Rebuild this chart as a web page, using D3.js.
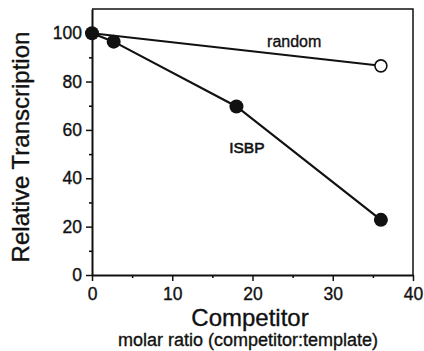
<!DOCTYPE html>
<html>
<head>
<meta charset="utf-8">
<script src="https://cdn.jsdelivr.net/npm/d3@7"></script>
<style>
  body { margin: 0; background: #fff; }
  svg text { font-family: "Liberation Sans", Arial, Helvetica, sans-serif; fill: #111; stroke: #111; stroke-width: 0.35px; }
</style>
</head>
<body>
<div class="canvas"></div>
<script>
// data
const isbpX = [0, 2.7, 18, 36];
const isbpY = [100, 96.5, 69.7, 22.8];
const randomX = [0, 36];
const randomY = [100, 86.5];
const xTicks = [0, 10, 20, 30, 40];
const xMinor = [5, 15, 25, 35];
const yTicks = [0, 20, 40, 60, 80, 100];
const yMinor = [10, 30, 50, 70, 90];

const W = 424, H = 351;
const margin = { top: 9, right: 11, bottom: 76, left: 92 };
const graphWidth = W - margin.left - margin.right;
const graphHeight = H - margin.top - margin.bottom;

const svg = d3.select('.canvas')
  .append('svg')
  .attr('width', W)
  .attr('height', H);

const graph = svg.append('g')
  .attr('transform', `translate(${margin.left}, ${margin.top})`);

const x = d3.scaleLinear().domain([0, 40]).range([0, graphWidth]);
const y = d3.scaleLinear().domain([0, 110]).range([graphHeight, 0]);

// frame (top and right)
graph.append('path')
  .attr('d', `M0,0 H${graphWidth} V${graphHeight}`)
  .attr('fill', 'none')
  .attr('stroke', '#111')
  .attr('stroke-width', 1.5);

// minor ticks
graph.append('g')
  .attr('transform', `translate(0, ${graphHeight})`)
  .call(d3.axisBottom(x).tickValues(xMinor).tickSize(3).tickFormat(''))
  .call(g => g.select('.domain').remove())
  .selectAll('line').attr('stroke-width', 1.5);

graph.append('g')
  .call(d3.axisLeft(y).tickValues(yMinor).tickSize(3).tickFormat(''))
  .call(g => g.select('.domain').remove())
  .selectAll('line').attr('stroke-width', 1.5);

// major axes
const xAxisGroup = graph.append('g')
  .attr('transform', `translate(0, ${graphHeight})`)
  .call(d3.axisBottom(x).tickValues(xTicks).tickSize(6).tickSizeOuter(0).tickPadding(7));

const yAxisGroup = graph.append('g')
  .call(d3.axisLeft(y).tickValues(yTicks).tickSize(6).tickSizeOuter(0).tickPadding(4));

[xAxisGroup, yAxisGroup].forEach(g => {
  g.select('.domain').attr('stroke', '#111').attr('stroke-width', 2);
  g.selectAll('.tick line').attr('stroke', '#111').attr('stroke-width', 1.5);
  g.selectAll('.tick text')
    .style('font-size', '17.5px')
    .style('font-family', '"Liberation Sans", Arial, sans-serif')
    .attr('fill', '#111');
});

// lines
const line = d3.line()
  .x(d => x(d[0]))
  .y(d => y(d[1]));

const randomData = randomX.map((v, i) => [v, randomY[i]]);
const isbpData = isbpX.map((v, i) => [v, isbpY[i]]);

graph.append('path')
  .datum(randomData)
  .attr('fill', 'none')
  .attr('stroke', '#111')
  .attr('stroke-width', 2)
  .attr('d', line);

graph.append('path')
  .datum(isbpData)
  .attr('fill', 'none')
  .attr('stroke', '#111')
  .attr('stroke-width', 2.2)
  .attr('d', line);

// markers
graph.selectAll('circle.open')
  .data(randomData.slice(1))
  .enter().append('circle')
  .attr('class', 'open')
  .attr('cx', d => x(d[0]))
  .attr('cy', d => y(d[1]))
  .attr('r', 6)
  .attr('fill', '#fff')
  .attr('stroke', '#111')
  .attr('stroke-width', 1.6);

graph.selectAll('circle.filled')
  .data(isbpData)
  .enter().append('circle')
  .attr('class', 'filled')
  .attr('cx', d => x(d[0]))
  .attr('cy', d => y(d[1]))
  .attr('r', 7)
  .attr('fill', '#111');

// series labels
graph.append('text')
  .attr('x', x(25.2))
  .attr('y', y(94.2))
  .attr('text-anchor', 'middle')
  .style('font-size', '16px')
  .text('random');

graph.append('text')
  .attr('x', x(19.3))
  .attr('y', y(50.4))
  .attr('text-anchor', 'middle')
  .style('font-size', '15.5px')
  .style('stroke-width', '0.6px')
  .text('ISBP');

// axis titles
svg.append('text')
  .attr('transform', `translate(29, 147) rotate(-90)`)
  .attr('text-anchor', 'middle')
  .style('font-size', '24px')
  .text('Relative Transcription');

svg.append('text')
  .attr('x', 250)
  .attr('y', 326)
  .attr('text-anchor', 'middle')
  .style('font-size', '24px')
  .text('Competitor');

svg.append('text')
  .attr('x', 248)
  .attr('y', 346)
  .attr('text-anchor', 'middle')
  .style('font-size', '18px')
  .text('molar ratio (competitor:template)');
</script>
</body>
</html>
